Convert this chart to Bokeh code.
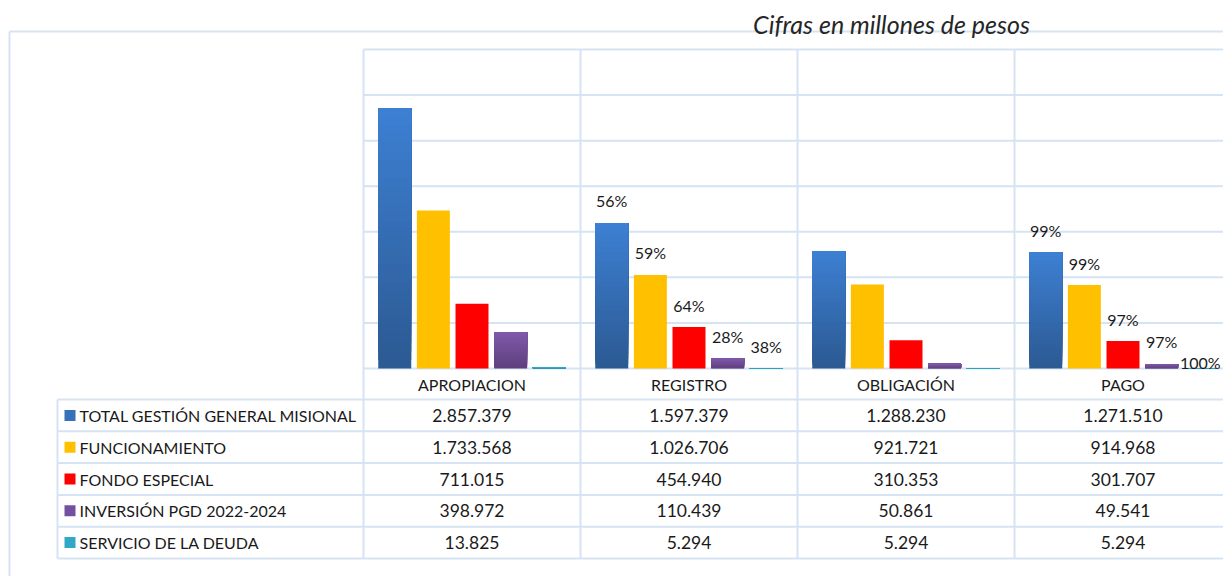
from bokeh.plotting import figure
from bokeh.models import Range1d, ColumnDataSource
from bokeh.core.properties import value
from bokeh.embed import file_html
from bokeh.resources import INLINE

# ---------------- data ----------------
title = "Cifras en millones de pesos"
stages = ["APROPIACION", "REGISTRO", "OBLIGACIÓN", "PAGO"]
series = ["TOTAL GESTIÓN GENERAL MISIONAL", "FUNCIONAMIENTO", "FONDO ESPECIAL",
          "INVERSIÓN PGD 2022-2024", "SERVICIO DE LA DEUDA"]
total_gestion = [2857379, 1597379, 1288230, 1271510]
funcionamiento = [1733568, 1026706, 921721, 914968]
fondo_especial = [711015, 454940, 310353, 301707]
inversion_pgd = [398972, 110439, 50861, 49541]
servicio_deuda = [13825, 5294, 5294, 5294]
values = [total_gestion, funcionamiento, fondo_especial, inversion_pgd, servicio_deuda]
y_ticks = [0, 500000, 1000000, 1500000, 2000000, 2500000, 3000000, 3500000]
# percentage labels: stage compared with an earlier stage
pct_pairs = [(1, 0), (3, 2)]

# ---------------- style ----------------
# (top colour, bottom colour) for each series -> vertical gradient
grad = [("#3D7FD2", "#2C5A93"), ("#FFC000", "#FFC000"), ("#FF0000", "#FF0000"),
        ("#8059AA", "#5F3F7E"), ("#35AECB", "#2A8FAE")]
legend_cols = ["#3570B8", "#FFC000", "#FF0000", "#7350A0", "#31A8C6"]
grid_col = "#D5E3F3"
txt_col = "#1A1A1A"
FONT = "Lato"

W, H = 1223, 576
PLOT_L, CAT_W = 363, 217          # px (canvas coords)
TOP_Y, BASE_Y = 49, 368           # px from top
YMAX = y_ticks[-1]
ppu = (BASE_Y - TOP_Y) / YMAX
HEAD_B = 399
ROW_H = 31.8
LEG_L = 57
BORDER_Y = 31

p = figure(width=W, height=H, output_backend="svg", toolbar_location=None,
           x_axis_type=None, y_axis_type=None, min_border=0,
           x_range=Range1d(-PLOT_L / CAT_W, (W - PLOT_L) / CAT_W),
           y_range=Range1d(-(H - BASE_Y) / ppu, YMAX + TOP_Y / ppu))
p.extra_x_ranges = {"px": Range1d(0, W)}
p.extra_y_ranges = {"px": Range1d(H, 0)}
p.outline_line_color = None
p.background_fill_color = "white"
p.border_fill_color = "white"
p.xgrid.visible = False
p.ygrid.visible = False

n = len(stages)
x_end = (W - PLOT_L) / CAT_W
# horizontal gridlines (value scale)
p.segment(x0=[0] * len(y_ticks), x1=[x_end] * len(y_ticks), y0=y_ticks, y1=y_ticks,
          line_color=grid_col, line_width=2)
# vertical category separators, through plot and table
row_edges = [HEAD_B + k * ROW_H for k in range(len(series) + 1)]
p.segment(x0=list(range(n)), x1=list(range(n)), y0=[TOP_Y] * n, y1=[row_edges[-1]] * n,
          y_range_name="px", line_color=grid_col, line_width=2)
# table row lines
p.segment(x0=[LEG_L] * len(row_edges), x1=[W] * len(row_edges), y0=row_edges, y1=row_edges,
          x_range_name="px", y_range_name="px", line_color=grid_col, line_width=2)
p.segment(x0=[LEG_L], x1=[LEG_L], y0=[HEAD_B], y1=[row_edges[-1]],
          x_range_name="px", y_range_name="px", line_color=grid_col, line_width=2)
# outer chart border
p.segment(x0=[9, 9], x1=[9, W], y0=[BORDER_Y, BORDER_Y], y1=[H, BORDER_Y],
          x_range_name="px", y_range_name="px", line_color=grid_col, line_width=2)

# title
p.text(x=[891], y=[23], text=[title], x_range_name="px", y_range_name="px",
       text_font=value(FONT), text_font_style="italic", text_font_size="25px",
       text_color="#262626", text_align="center", text_baseline="alphabetic")


def mix(c1, c2, t):
    a = [int(c1[i:i + 2], 16) for i in (1, 3, 5)]
    b = [int(c2[i:i + 2], 16) for i in (1, 3, 5)]
    return "#%02x%02x%02x" % tuple(round(a[k] + (b[k] - a[k]) * t) for k in range(3))


# bars (vertical colour gradient: overlapping bars, each starting higher up)
BW = 0.152
offs = [(j - 2) * 0.178 for j in range(len(series))]
STEPS = 30
for j, vals in enumerate(values):
    xs = [i + 0.5 + offs[j] for i in range(n)]
    top_c, bot_c = grad[j]
    if top_c == bot_c:
        p.vbar(x=xs, top=vals, bottom=0, width=BW, fill_color=top_c, line_color=None)
        continue
    for k in range(STEPS):
        c = mix(bot_c, top_c, k / (STEPS - 1))
        p.vbar(x=xs, bottom=[v * k / STEPS for v in vals], top=vals,
               width=BW, fill_color=c, line_color=None)

# percentage labels
lx, ly, lt, lo = [], [], [], []
for (a, b) in pct_pairs:
    for j, vals in enumerate(values):
        lx.append(a + 0.5 + offs[j])
        ly.append(vals[a])
        lt.append(f"{round(100 * vals[a] / vals[b])}%")
        lo.append(-6 if (a == n - 1 and j == len(series) - 1) else -22)
p.text(x="x", y="y", text="t", y_offset="o",
       source=ColumnDataSource(dict(x=lx, y=ly, t=lt, o=lo)),
       text_font=value(FONT), text_font_size="16px", text_color=txt_col,
       text_align="center", text_baseline="middle")

# table header (stage names)
head_c = (BASE_Y + HEAD_B) / 2
p.text(x=[i + 0.5 for i in range(n)], y=[head_c] * n, text=stages, y_range_name="px",
       text_font=value(FONT), text_font_size="16px", text_color=txt_col,
       text_align="center", text_baseline="middle")

# table rows
row_c = [HEAD_B + (k + 0.5) * ROW_H for k in range(len(series))]
p.scatter(x=[LEG_L + 12.5] * len(series), y=row_c, marker="square", size=11,
          fill_color=legend_cols, line_color=None, x_range_name="px", y_range_name="px")
p.text(x=[LEG_L + 22] * len(series), y=row_c, text=series,
       x_range_name="px", y_range_name="px",
       text_font=value(FONT), text_font_size="16px", text_color=txt_col,
       text_align="left", text_baseline="middle")

tx, ty, tt = [], [], []
for j, vals in enumerate(values):
    for i, v in enumerate(vals):
        tx.append(i + 0.5)
        ty.append(row_c[j])
        tt.append(f"{v:,}".replace(",", "."))
p.text(x=tx, y=ty, text=tt, y_range_name="px",
       text_font=value(FONT), text_font_size="17.5px", text_color=txt_col,
       text_align="center", text_baseline="middle")

open("out.html", "w").write(file_html(p, INLINE))
